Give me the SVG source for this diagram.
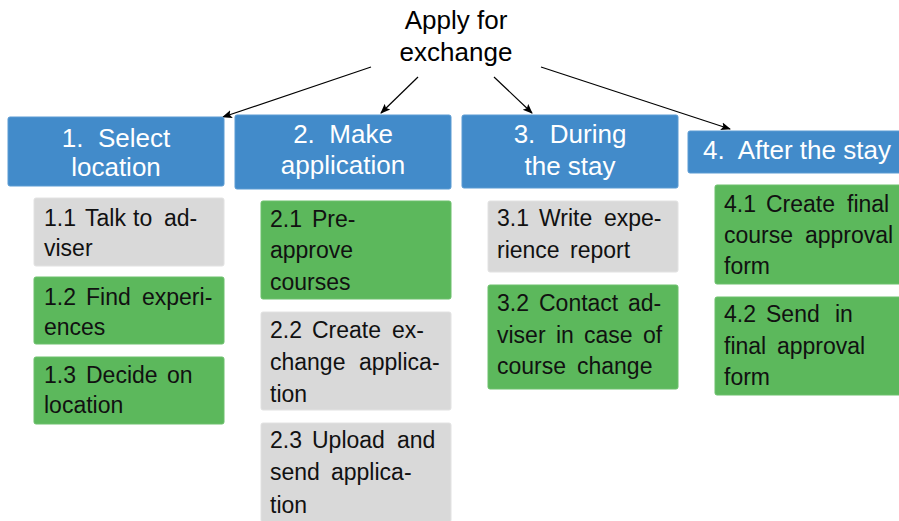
<svg xmlns="http://www.w3.org/2000/svg" width="899" height="521" viewBox="0 0 899 521">
  <style>
    .hdr rect { fill: #428bca; stroke: #5b9bd3; stroke-width: 1; }
    .hdr text { fill: #ffffff; font-family: "Liberation Sans", Arial, sans-serif; font-size: 26px; text-anchor: middle; }
    .task text { fill: #111111; font-family: "Liberation Sans", Arial, sans-serif; font-size: 23px; }
    .green rect { fill: #5cb85c; stroke: #6cc06c; stroke-width: 1; }
    .gray rect { fill: #d9d9d9; stroke: #e2e2e2; stroke-width: 1; }
    .title { fill: #000000; font-family: "Liberation Sans", Arial, sans-serif; font-size: 26px; text-anchor: middle; }
    .edge { stroke: #000000; stroke-width: 1.2; fill: none; marker-end: url(#tip); }
  </style>
  <defs>
    <marker id="tip" viewBox="0 0 10 10" refX="9" refY="5" markerWidth="10" markerHeight="10" markerUnits="userSpaceOnUse" orient="auto">
      <path d="M0,1 L10,5 L0,9 L2,5 Z" fill="#000000"/>
    </marker>
  </defs>

  <rect width="899" height="521" fill="#ffffff"/>

  <!-- root -->
  <g id="root">
    <text class="title" x="456" y="29">Apply for</text>
    <text class="title" x="456" y="61">exchange</text>
  </g>

  <!-- connectors -->
  <g id="connectors">
    <line class="edge" x1="371" y1="67" x2="223" y2="117"/>
    <line class="edge" x1="418" y1="77" x2="381" y2="113"/>
    <line class="edge" x1="494" y1="77" x2="532" y2="113"/>
    <line class="edge" x1="541" y1="67" x2="730" y2="129"/>
  </g>

  <!-- phase headers -->
  <g id="phase1" class="hdr">
    <rect x="8" y="117" width="216" height="69" rx="2"/>
    <text x="116" y="147">1.&#160; Select</text>
    <text x="116" y="176">location</text>
  </g>
  <g id="phase2" class="hdr">
    <rect x="235" y="115" width="216" height="74" rx="2"/>
    <text x="343" y="143">2.&#160; Make</text>
    <text x="343" y="174">application</text>
  </g>
  <g id="phase3" class="hdr">
    <rect x="462" y="115" width="216" height="73" rx="2"/>
    <text x="570" y="143">3.&#160; During</text>
    <text x="570" y="175">the stay</text>
  </g>
  <g id="phase4" class="hdr">
    <rect x="688" y="131" width="222" height="42" rx="2"/>
    <text x="797" y="159">4.&#160; After the stay</text>
  </g>

  <!-- column 1 tasks -->
  <g id="task1-1" class="task gray">
    <rect x="34" y="198" width="190" height="68" rx="2"/>
    <text y="226"><tspan x="44">1.1</tspan><tspan x="85">Talk</tspan><tspan x="133">to</tspan><tspan x="164">ad-</tspan></text>
    <text x="44" y="256">viser</text>
  </g>
  <g id="task1-2" class="task green">
    <rect x="34" y="277" width="190" height="67" rx="2"/>
    <text y="305"><tspan x="44">1.2</tspan><tspan x="86">Find</tspan><tspan x="142">experi-</tspan></text>
    <text x="44" y="335">ences</text>
  </g>
  <g id="task1-3" class="task green">
    <rect x="34" y="357" width="190" height="67" rx="2"/>
    <text y="383"><tspan x="44">1.3</tspan><tspan x="86">Decide</tspan><tspan x="167">on</tspan></text>
    <text x="44" y="413">location</text>
  </g>

  <!-- column 2 tasks -->
  <g id="task2-1" class="task green">
    <rect x="261" y="201" width="190" height="98" rx="2"/>
    <text y="227"><tspan x="270">2.1</tspan><tspan x="312">Pre-</tspan></text>
    <text x="270" y="258">approve</text>
    <text x="270" y="290">courses</text>
  </g>
  <g id="task2-2" class="task gray">
    <rect x="261" y="312" width="190" height="98" rx="2"/>
    <text y="338"><tspan x="270">2.2</tspan><tspan x="312">Create</tspan><tspan x="392">ex-</tspan></text>
    <text y="370"><tspan x="270">change</tspan><tspan x="359">applica-</tspan></text>
    <text x="270" y="402">tion</text>
  </g>
  <g id="task2-3" class="task gray">
    <rect x="261" y="423" width="190" height="99" rx="2"/>
    <text y="448"><tspan x="270">2.3</tspan><tspan x="312">Upload</tspan><tspan x="397">and</tspan></text>
    <text y="480"><tspan x="270">send</tspan><tspan x="331">applica-</tspan></text>
    <text x="270" y="513">tion</text>
  </g>

  <!-- column 3 tasks -->
  <g id="task3-1" class="task gray">
    <rect x="488" y="201" width="190" height="71" rx="2"/>
    <text y="226"><tspan x="497">3.1</tspan><tspan x="539">Write</tspan><tspan x="604">expe-</tspan></text>
    <text y="258"><tspan x="497">rience</tspan><tspan x="570">report</tspan></text>
  </g>
  <g id="task3-2" class="task green">
    <rect x="488" y="285" width="190" height="104" rx="2"/>
    <text y="311"><tspan x="497">3.2</tspan><tspan x="539">Contact</tspan><tspan x="628">ad-</tspan></text>
    <text y="343"><tspan x="497">viser</tspan><tspan x="556">in</tspan><tspan x="584">case</tspan><tspan x="643">of</tspan></text>
    <text y="374"><tspan x="497">course</tspan><tspan x="577">change</tspan></text>
  </g>

  <!-- column 4 tasks -->
  <g id="task4-1" class="task green">
    <rect x="715" y="185" width="195" height="99" rx="2"/>
    <text y="212"><tspan x="724">4.1</tspan><tspan x="766">Create</tspan><tspan x="847">final</tspan></text>
    <text y="243"><tspan x="724">course</tspan><tspan x="805">approval</tspan></text>
    <text x="724" y="274">form</text>
  </g>
  <g id="task4-2" class="task green">
    <rect x="715" y="297" width="195" height="98" rx="2"/>
    <text y="322"><tspan x="724">4.2</tspan><tspan x="766">Send</tspan><tspan x="835">in</tspan></text>
    <text y="354"><tspan x="724">final</tspan><tspan x="777">approval</tspan></text>
    <text x="724" y="385">form</text>
  </g>
</svg>
